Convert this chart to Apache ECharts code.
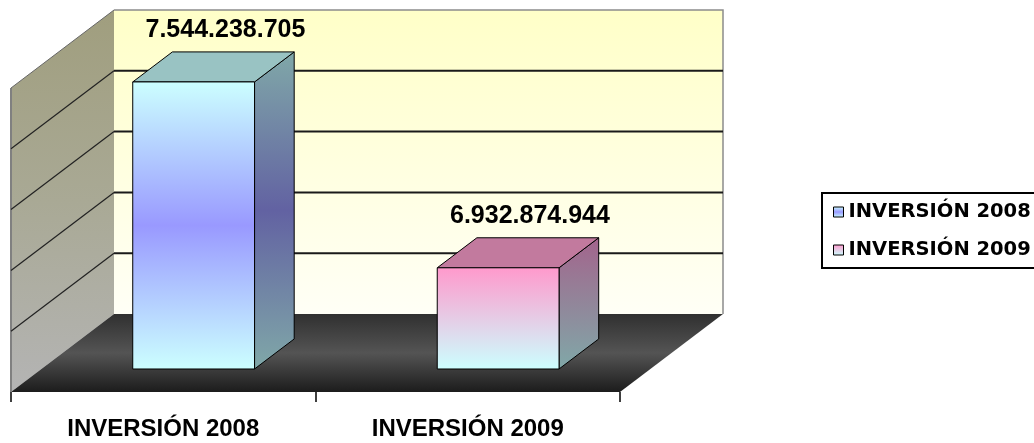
<!DOCTYPE html>
<html>
<head>
<meta charset="utf-8">
<script src="https://cdn.jsdelivr.net/npm/echarts@6/dist/echarts.min.js"></script>
<style>
  html, body { margin: 0; padding: 0; background: #fff; }
  #chart { width: 1034px; height: 443px; }
</style>
</head>
<body>
<div id="chart"></div>
<script>
// data
const categories = ['INVERSIÓN 2008', 'INVERSIÓN 2009'];
const investment = [7544238705, 6932874944];
const axisMin = 6.6e9;
const axisMax = 7.6e9;
const axisStep = 2e8;
const gridTicks = [6.8e9, 7.0e9, 7.2e9, 7.4e9];

// fake 3d view
const DEPTH = [103, -78];
const BAR_FRONT = 0.295;
const BAR_BACK = 0.68;
const BAR_WIDTH = 0.4;
const LABEL_FONT = 'bold 25px "Liberation Sans", Arial, sans-serif';

const grad = (stops) => new echarts.graphic.LinearGradient(0, 0, 0, 1,
  stops.map((c, i) => ({ offset: i / (stops.length - 1), color: c })));

const palettes = [
  {
    front: ['#ccffff', '#9999ff', '#ccffff'],
    side : ['#80a8a8', '#6262a2', '#80a8a8'],
    top  : '#99c3c3'
  },
  {
    front: ['#ff99cc', '#ccffff'],
    side : ['#a3648c', '#80a8a8'],
    top  : '#c27a9e'
  }
];

const fmt = v => String(v).replace(/\B(?=(\d{3})+(?!\d))/g, '.');

function roomItem(params, api) {
  const base = api.coord([0, axisMin]);
  const band = api.size([1, 0])[0];
  const left = base[0] - band / 2;
  const right = api.coord([categories.length - 1, axisMin])[0] + band / 2;
  const bottom = base[1];
  const top = api.coord([0, axisMax])[1];
  const dx = DEPTH[0], dy = DEPTH[1];
  const y = api.coord([0, api.value(1)])[1];
  const children = [];

  if (params.dataIndex === 0) {
    children.push({
      type : 'rect', z2: 0,
      shape: { x: left + dx, y: top + dy, width: right - left, height: bottom - top },
      style: { fill: grad(['#ffffc8', '#fffff6']) }
    });
    children.push({
      type : 'polygon', z2: 0,
      shape: { points: [[left, top], [left + dx, top + dy], [left + dx, bottom + dy], [left, bottom]] },
      style: { fill: grad(['#a09e7e', '#a9a995', '#b4b4b4']) }
    });
    children.push({
      type : 'polygon', z2: 1,
      shape: { points: [[left, bottom], [left + dx, bottom + dy], [right + dx, bottom + dy], [right, bottom]] },
      style: { fill: grad(['#303030', '#545454', '#1c1c1c']) }
    });
    children.push({
      type : 'polyline', z2: 2,
      shape: { points: [[left + dx, top + dy], [right + dx, top + dy], [right + dx, bottom + dy]] },
      style: { stroke: '#8c8c8c', lineWidth: 1.5, fill: null }
    });
    children.push({
      type : 'line', z2: 2,
      shape: { x1: left, y1: top, x2: left, y2: bottom },
      style: { stroke: '#808080', lineWidth: 2 }
    });
    children.push({
      type : 'line', z2: 2,
      shape: { x1: left, y1: top, x2: left + dx, y2: top + dy },
      style: { stroke: '#666', lineWidth: 1 }
    });
  } else {
    children.push({
      type : 'line', z2: 3,
      shape: { x1: left + dx, y1: y + dy, x2: right + dx, y2: y + dy },
      style: { stroke: '#1a1a1a', lineWidth: 2 }
    });
    children.push({
      type : 'line', z2: 3,
      shape: { x1: left, y1: y, x2: left + dx, y2: y + dy },
      style: { stroke: '#222', lineWidth: 1.2 }
    });
  }
  return { type: 'group', children };
}

function barItem(params, api) {
  const idx = api.value(0);
  const val = api.value(1);
  const pal = palettes[params.seriesIndex - 1];
  const top = api.coord([idx, val]);
  const bot = api.coord([idx, axisMin]);
  const w = api.size([1, 0])[0] * BAR_WIDTH;
  const fx = DEPTH[0] * BAR_FRONT, fy = DEPTH[1] * BAR_FRONT;
  const dx = DEPTH[0] * (BAR_BACK - BAR_FRONT), dy = DEPTH[1] * (BAR_BACK - BAR_FRONT);
  const x0 = top[0] + fx - w / 2, x1 = x0 + w;
  const yt = top[1] + fy, yb = bot[1] + fy;
  const edge = { stroke: '#000', lineWidth: 1 };

  return {
    type    : 'group',
    children: [
      {
        type : 'polygon',
        shape: { points: [[x1, yt], [x1 + dx, yt + dy], [x1 + dx, yb + dy], [x1, yb]] },
        style: Object.assign({ fill: grad(pal.side) }, edge)
      },
      {
        type : 'polygon',
        shape: { points: [[x0, yt], [x0 + dx, yt + dy], [x1 + dx, yt + dy], [x1, yt]] },
        style: Object.assign({ fill: pal.top }, edge)
      },
      {
        type : 'rect',
        shape: { x: x0, y: yt, width: w, height: yb - yt },
        style: Object.assign({ fill: grad(pal.front) }, edge)
      },
      {
        type : 'text',
        style: {
          text         : fmt(val),
          x            : (x0 + x1) / 2 + dx / 2 + 12,
          y            : yt + dy / 2 - 37,
          align        : 'center',
          verticalAlign: 'middle',
          font         : LABEL_FONT,
          fill         : '#000'
        }
      }
    ]
  };
}

const chart = echarts.init(document.getElementById('chart'));

chart.setOption({
  animation: false,
  grid     : { left: 11, top: 88, width: 609, height: 304 },
  xAxis    : {
    type     : 'category',
    data     : categories,
    axisLine : { show: false },
    axisTick : { show: true, length: 10, lineStyle: { color: '#000', width: 1.5 } },
    axisLabel: {
      margin    : 25,
      color     : '#000',
      fontSize  : 24,
      fontWeight: 'bold',
      fontFamily: '"Liberation Sans", Arial, sans-serif'
    },
    splitLine: { show: false }
  },
  yAxis    : {
    type    : 'value',
    min     : axisMin,
    max     : axisMax,
    interval: axisStep,
    show    : false
  },
  legend   : {
    orient       : 'vertical',
    left         : 822,
    top          : 193,
    padding      : [9, 40, 8, 11],
    itemGap      : 18,
    itemWidth    : 10,
    itemHeight   : 10,
    icon         : 'rect',
    selectedMode : false,
    borderColor  : '#000',
    borderWidth  : 2,
    textStyle    : {
      color     : '#000',
      fontSize  : 19.5,
      lineHeight: 20,
      fontWeight: 'bold',
      fontFamily: '"DejaVu Sans", Verdana, sans-serif'
    },
    data: categories.map((name, i) => ({
      name,
      itemStyle: { color: grad(palettes[i].front), borderColor: '#000', borderWidth: 1 }
    }))
  },
  series   : [
    {
      type      : 'custom',
      name      : 'room',
      z         : 1,
      silent    : true,
      renderItem: roomItem,
      encode    : { x: 0, y: 1 },
      data      : [axisMin].concat(gridTicks).map(t => [0, t])
    }
  ].concat(categories.map((name, i) => ({
    type      : 'custom',
    name,
    z         : 2,
    renderItem: barItem,
    encode    : { x: 0, y: 1 },
    data      : [[i, investment[i]]]
  })))
});
</script>
</body>
</html>
